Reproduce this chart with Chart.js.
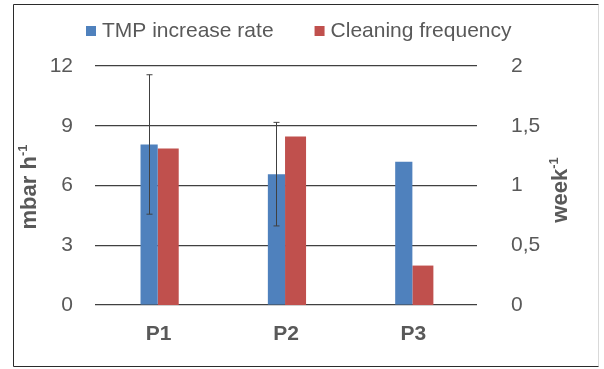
<!DOCTYPE html>
<html>
<head>
<meta charset="utf-8">
<script src="https://cdn.jsdelivr.net/npm/chart.js@4/dist/chart.umd.min.js"></script>
<style>
  html, body { margin: 0; padding: 0; background: #fff; }
  #wrap { position: relative; width: 604px; height: 369px; }
</style>
</head>
<body>
<div id="wrap"><canvas id="chart" width="604" height="369"></canvas></div>
<script>
// data
const categories = ['P1', 'P2', 'P3'];
const tmpRate = [8.06, 6.57, 7.19];          // mbar h-1 (left axis)
const tmpError = [3.5, 2.6, null];           // +/- error on TMP rate
const cleaningFreq = [1.31, 1.41, 0.33];     // week-1 (right axis)
const seriesNames = ['TMP increase rate', 'Cleaning frequency'];

const FONT = '"Liberation Sans", Arial, sans-serif';
const GREY = '#595959';

// error bars on the blue bars
const errorBars = {
    id: 'errorBars',
    afterDatasetsDraw(chart) {
        const ctx = chart.ctx;
        const meta = chart.getDatasetMeta(0);
        const y = chart.scales.y;
        ctx.save();
        ctx.strokeStyle = '#404040';
        ctx.lineWidth = 1;
        meta.data.forEach((bar, i) => {
            const e = tmpError[i];
            if (e == null) return;
            const x = Math.round(bar.x) + 0.5;
            const top = y.getPixelForValue(tmpRate[i] + e);
            const bot = y.getPixelForValue(tmpRate[i] - e);
            ctx.beginPath();
            ctx.moveTo(x, top); ctx.lineTo(x, bot);
            ctx.moveTo(x - 3, top); ctx.lineTo(x + 3, top);
            ctx.moveTo(x - 3, bot); ctx.lineTo(x + 3, bot);
            ctx.stroke();
        });
        ctx.restore();
    }
};

// rotated axis title with a superscript
function drawTitle(ctx, cx, cy, main, sup) {
    ctx.save();
    ctx.translate(cx, cy);
    ctx.rotate(-Math.PI / 2);
    ctx.fillStyle = GREY;
    ctx.font = 'bold 22px ' + FONT;
    const w1 = ctx.measureText(main).width;
    ctx.font = 'bold 13px ' + FONT;
    const w2 = ctx.measureText(sup).width;
    const x0 = -(w1 + w2) / 2;
    ctx.textBaseline = 'middle';
    ctx.font = 'bold 22px ' + FONT;
    ctx.fillText(main, x0, 0);
    ctx.font = 'bold 13px ' + FONT;
    ctx.fillText(sup, x0 + w1, -7);
    ctx.restore();
}

// frame, legend and axis titles
const decorations = {
    id: 'decorations',
    afterDraw(chart) {
        const ctx = chart.ctx;
        ctx.save();
        ctx.lineWidth = 1;
        ctx.strokeStyle = '#d9d9d9';
        ctx.beginPath();
        ctx.moveTo(598.5, 4.5); ctx.lineTo(598.5, 366.5);
        ctx.stroke();
        ctx.strokeStyle = '#2b2b2b';
        ctx.beginPath();
        ctx.moveTo(598.5, 4.5); ctx.lineTo(13.5, 4.5);
        ctx.lineTo(13.5, 366.5); ctx.lineTo(598.5, 366.5);
        ctx.stroke();

        ctx.font = '21px ' + FONT;
        ctx.textBaseline = 'middle';
        let x = 86;
        chart.data.datasets.forEach(ds => {
            ctx.fillStyle = ds.backgroundColor;
            ctx.fillRect(x, 26, 10, 10);
            ctx.fillStyle = GREY;
            ctx.fillText(ds.label, x + 16, 31);
            x += 16 + ctx.measureText(ds.label).width + 41;
        });
        ctx.restore();

        drawTitle(ctx, 30, 187, 'mbar h', '-1');
        drawTitle(ctx, 561, 190, 'week', '-1');
    }
};

new Chart(document.getElementById('chart'), {
    type: 'bar',
    data: {
        labels: categories,
        datasets: [
            {
                label: seriesNames[0],
                data: tmpRate,
                backgroundColor: '#4F81BD',
                yAxisID: 'y',
                categoryPercentage: 0.3,
                barPercentage: 0.9
            },
            {
                label: seriesNames[1],
                data: cleaningFreq,
                backgroundColor: '#C0504D',
                yAxisID: 'y1',
                categoryPercentage: 0.3,
                barPercentage: 1.1
            }
        ]
    },
    options: {
        responsive: false,
        animation: false,
        layout: { padding: { top: 66, left: 0, right: 0, bottom: 0 } },
        plugins: {
            legend: { display: false },
            tooltip: { enabled: false }
        },
        scales: {
            x: {
                grid: { display: false },
                border: { display: false },
                ticks: {
                    color: GREY,
                    padding: 9,
                    font: { family: FONT, size: 21, weight: 'bold' }
                },
                afterFit(scale) { scale.height = 64; }
            },
            y: {
                position: 'left',
                min: 0,
                max: 12,
                grid: { color: '#404040', lineWidth: 1.2, drawTicks: false },
                border: { display: false },
                ticks: {
                    stepSize: 3,
                    color: GREY,
                    padding: 22,
                    font: { family: FONT, size: 21 }
                },
                afterFit(scale) { scale.width = 95; }
            },
            y1: {
                position: 'right',
                min: 0,
                max: 2,
                grid: { display: false, drawTicks: false },
                border: { display: false },
                ticks: {
                    stepSize: 0.5,
                    color: GREY,
                    padding: 34,
                    font: { family: FONT, size: 21 },
                    callback: v => String(v).replace('.', ',')
                },
                afterFit(scale) { scale.width = 127; }
            }
        }
    },
    plugins: [errorBars, decorations]
});
</script>
</body>
</html>
